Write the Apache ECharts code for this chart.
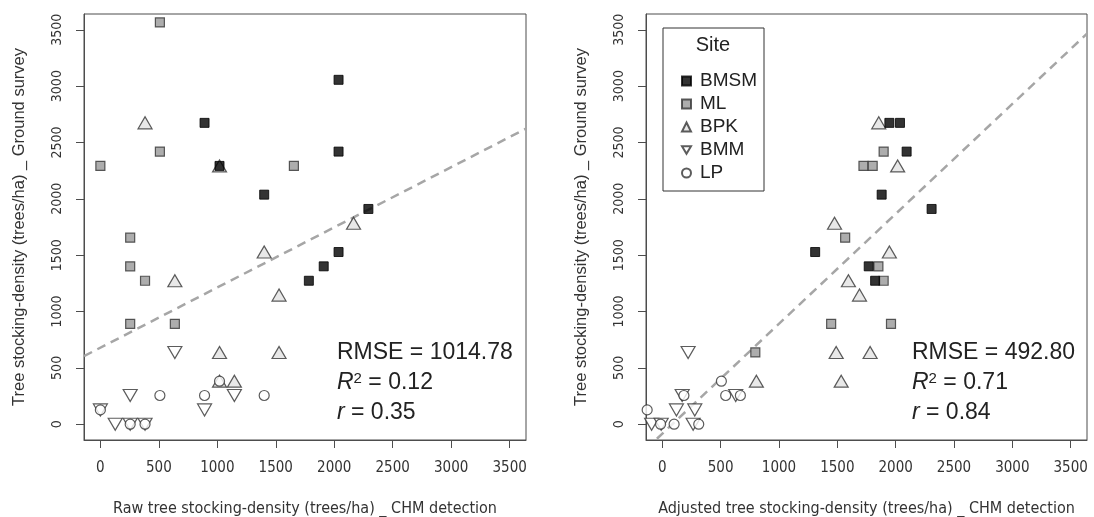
<!DOCTYPE html>
<html>
<head>
<meta charset="utf-8">
<script src="https://cdn.jsdelivr.net/npm/echarts@6/dist/echarts.min.js"></script>
<style>
  html, body { margin: 0; padding: 0; background: #fff; }
  #chart { width: 1094px; height: 517px; }
</style>
</head>
<body>
<div id="chart"></div>
<script>
// site names, legend order
const sites = ["BMSM", "ML", "BPK", "BMM", "LP"];

// raw CHM detection vs ground survey (trees/ha)
const rawBMSM = [[891, 2674], [1019, 2292], [1401, 2037], [2037, 3056], [2037, 2419], [2292, 1910], [2037, 1528], [1910, 1401], [1783, 1273]];
const rawML = [[509, 3565], [509, 2419], [0, 2292], [1655, 2292], [255, 1655], [255, 1401], [382, 1273], [255, 891], [637, 891]];
const rawBPK = [[382, 2674], [1019, 2292], [1401, 1528], [2165, 1783], [637, 1273], [1528, 1146], [1019, 637], [1528, 637], [1019, 382], [1146, 382]];
const rawBMM = [[637, 637], [255, 255], [1146, 255], [0, 127], [891, 127], [127, 0], [255, 0], [382, 0]];
const rawLP = [[1019, 382], [509, 255], [891, 255], [1401, 255], [0, 127], [255, 0], [382, 0]];

// adjusted CHM detection vs ground survey (trees/ha)
const adjBMSM = [[1310, 1528], [1946, 2674], [2037, 2674], [2094, 2419], [1880, 2037], [2308, 1910], [1769, 1401], [1824, 1273]];
const adjML = [[1897, 2419], [1724, 2292], [1803, 2292], [1567, 1655], [1852, 1401], [1897, 1273], [1447, 891], [1960, 891], [797, 637]];
const adjBPK = [[1855, 2674], [2017, 2292], [1476, 1783], [1946, 1528], [1595, 1273], [1690, 1146], [1490, 637], [1781, 637], [806, 382], [1533, 382]];
const adjBMM = [[221, 637], [629, 255], [170, 255], [121, 127], [278, 127], [-92, 0], [-10, 0], [264, 0]];
const adjLP = [[506, 382], [543, 255], [669, 255], [185, 255], [-130, 127], [-15, 0], [101, 0], [312, 0]];

// fitted lines: [intercept, slope]
const rawFit = [679, 0.534];
const adjFit = [-83.5, 0.975];

// stats text
const rawStats = ["1014.78", "0.12", "0.35"];
const adjStats = ["492.80", "0.71", "0.84"];

const ticks = [0, 500, 1000, 1500, 2000, 2500, 3000, 3500];
const axisMin = -140;
const axisMax = 3640;

const narrow = '"Liberation Sans Narrow", "DejaVu Sans Condensed", "Liberation Sans", sans-serif';
const sans = '"Liberation Sans", Arial, sans-serif';
const edge = "#4d4d4d";

const chart = echarts.init(document.getElementById("chart"));

function xAxis(gridIndex, name) {
  return {
    type: "value",
    gridIndex: gridIndex,
    min: axisMin,
    max: axisMax,
    name: name,
    nameLocation: "middle",
    nameGap: 61,
    nameTextStyle: { fontFamily: narrow, fontSize: 16, color: "#333" },
    axisLine: { show: true, onZero: false, lineStyle: { color: edge } },
    axisTick: { show: true, length: 8, customValues: ticks, lineStyle: { color: edge } },
    axisLabel: { customValues: ticks, margin: 21, fontFamily: narrow, fontSize: 15, color: "#333", formatter: (v) => String(v) },
    splitLine: { show: false },
  };
}

function yAxis(gridIndex) {
  return {
    type: "value",
    gridIndex: gridIndex,
    min: axisMin,
    max: axisMax,
    name: "Tree stocking-density (trees/ha) _ Ground survey",
    nameLocation: "middle",
    nameGap: 56,
    nameTextStyle: { fontFamily: sans, fontSize: 16.5, color: "#333" },
    axisLine: { show: true, onZero: false, lineStyle: { color: edge } },
    axisTick: { show: true, length: 8, customValues: ticks, lineStyle: { color: edge } },
    axisLabel: { customValues: ticks, rotate: 90, margin: 20, fontFamily: narrow, fontSize: 14, color: "#333", formatter: (v) => String(v) },
    splitLine: { show: false },
  };
}

const downTri = "path://M0,0 L14,0 L7,12 Z";

// marker look for each site
const looks = {
  BMSM: { symbol: "rect", symbolSize: 9, itemStyle: { color: "#000", borderColor: "#000", borderWidth: 1 }, z: 4 },
  ML: { symbol: "rect", symbolSize: 9, itemStyle: { color: "#999", borderColor: "#333", borderWidth: 1.2 }, z: 3 },
  BPK: { symbol: "triangle", symbolSize: [14, 12], itemStyle: { color: "#e2e2e2", borderColor: "#333", borderWidth: 1.2 }, z: 2 },
  BMM: { symbol: downTri, symbolSize: [14, 12], itemStyle: { color: "#fff", borderColor: "#333", borderWidth: 1.2 }, z: 2 },
  LP: { symbol: "circle", symbolSize: 10, itemStyle: { color: "#fff", borderColor: "#333", borderWidth: 1.2 }, z: 2 },
};

function scatter(name, data, idx) {
  const l = looks[name];
  return {
    type: "scatter",
    name: name,
    xAxisIndex: idx,
    yAxisIndex: idx,
    data: data,
    symbol: l.symbol,
    symbolSize: l.symbolSize,
    itemStyle: l.itemStyle,
    z: l.z,
  };
}

function fitLine(fit, idx) {
  const xs = [axisMin, axisMax];
  return {
    type: "line",
    xAxisIndex: idx,
    yAxisIndex: idx,
    data: xs.map((x) => [x, fit[0] + fit[1] * x]),
    showSymbol: false,
    clip: true,
    silent: true,
    lineStyle: { color: "#a6a6a6", width: 2.5, type: [9, 6] },
    z: 1,
  };
}

function statsText(x, s) {
  const base = { fontFamily: sans, fill: "#222" };
  return [
    { type: "text", left: x, top: 341, style: Object.assign({ text: "RMSE = " + s[0], fontSize: 23 }, base) },
    {
      type: "text", left: x, top: 371,
      style: Object.assign({
        text: "{i|R}{s|2}{n| = " + s[1] + "}",
        rich: {
          i: { fontStyle: "italic", fontSize: 23, fontFamily: sans, verticalAlign: "bottom" },
          s: { fontSize: 15, fontFamily: sans, verticalAlign: "top" },
          n: { fontSize: 23, fontFamily: sans, verticalAlign: "bottom" },
        },
      }, base),
    },
    {
      type: "text", left: x, top: 401,
      style: Object.assign({
        text: "{i|r}{n| = " + s[2] + "}",
        rich: { i: { fontStyle: "italic", fontSize: 23, fontFamily: sans }, n: { fontSize: 23, fontFamily: sans } },
      }, base),
    },
  ];
}

const option = {
  animation: false,
  backgroundColor: "#fff",
  grid: [
    { left: 84, top: 14, width: 442, height: 426, containLabel: false, outerBoundsMode: "none", show: true, borderColor: edge, borderWidth: 1 },
    { left: 646, top: 14, width: 441, height: 426, containLabel: false, outerBoundsMode: "none", show: true, borderColor: edge, borderWidth: 1 },
  ],
  xAxis: [
    xAxis(0, "Raw tree stocking-density (trees/ha) _ CHM detection"),
    xAxis(1, "Adjusted tree stocking-density (trees/ha) _ CHM detection"),
  ],
  yAxis: [yAxis(0), yAxis(1)],
  legend: {
    data: sites.map((s) => ({ name: s, icon: looks[s].symbol })),
    orient: "vertical",
    left: 676,
    top: 66,
    itemWidth: 9,
    itemHeight: 9,
    itemGap: 3,
    textStyle: { fontFamily: sans, fontSize: 19, lineHeight: 20, color: "#222", padding: [0, 0, 0, 4] },
  },
  graphic: [
    { type: "rect", shape: { x: 663, y: 28, width: 101, height: 163 }, style: { fill: "transparent", stroke: "#333", lineWidth: 1 } },
    { type: "text", x: 713, y: 45, style: { text: "Site", fontFamily: sans, fontSize: 20, fill: "#222", align: "center", verticalAlign: "middle" } },
  ].concat(statsText(337, rawStats), statsText(912, adjStats)),
  series: [
    scatter("BMSM", rawBMSM, 0),
    scatter("ML", rawML, 0),
    scatter("BPK", rawBPK, 0),
    scatter("BMM", rawBMM, 0),
    scatter("LP", rawLP, 0),
    fitLine(rawFit, 0),
    scatter("BMSM", adjBMSM, 1),
    scatter("ML", adjML, 1),
    scatter("BPK", adjBPK, 1),
    scatter("BMM", adjBMM, 1),
    scatter("LP", adjLP, 1),
    fitLine(adjFit, 1),
  ],
};

chart.setOption(option);
</script>
</body>
</html>
